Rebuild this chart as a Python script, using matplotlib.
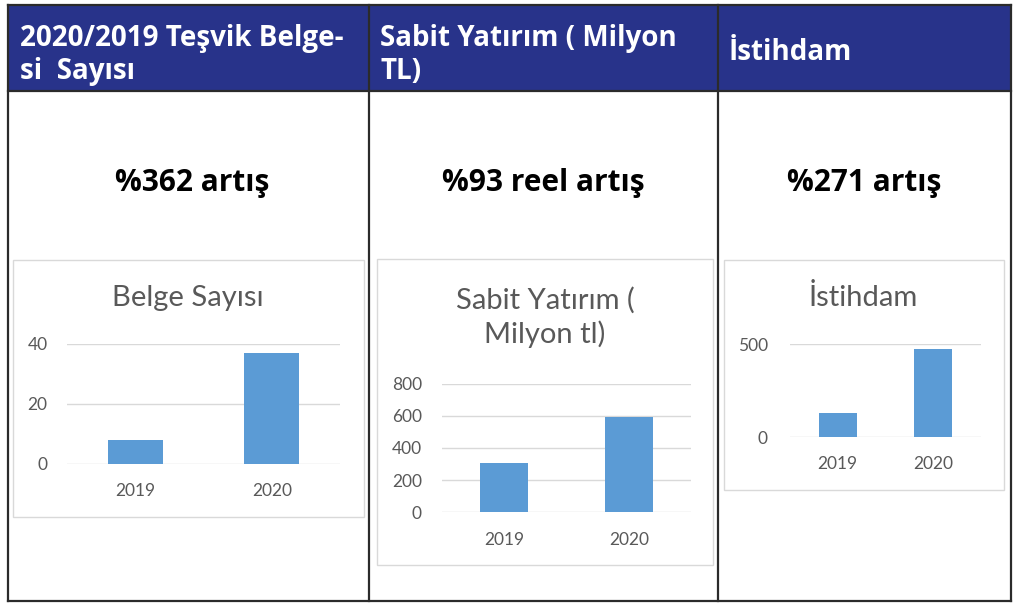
import matplotlib.pyplot as plt
from matplotlib.patches import Rectangle
from matplotlib.lines import Line2D

# veriler
years = ['2019', '2020']
belge = [8, 37]
yatirim = [305, 595]
istihdam = [128, 475]

headers = ['2020/2019 Teşvik Belge-\nsi  Sayısı', 'Sabit Yatırım ( Milyon\nTL)', 'İstihdam']
changes = ['%362 artış', '%93 reel artış', '%271 artış']
chart_titles = ['Belge Sayısı', 'Sabit Yatırım (\nMilyon tl)', 'İstihdam']

W, H = 1013, 603
fig = plt.figure(figsize=(W / 100, H / 100), dpi=100)


def fx(x):
    return x / W


def fy(y):
    return 1 - y / H


BLUE = '#28338a'
LINE = '#2b2b2b'
GREY = '#595959'
BAR = '#5b9bd5'
GRID = '#d9d9d9'

# tablo
fig.patches.append(Rectangle((fx(8), fy(91)), fx(1011) - fx(8), fy(5) - fy(91),
                             transform=fig.transFigure, facecolor=BLUE, edgecolor='none',
                             zorder=-2))
col_x = [8, 369, 718, 1011]
for x in col_x:
    fig.lines.append(Line2D([fx(x), fx(x)], [fy(5), fy(601)], transform=fig.transFigure,
                            color=LINE, lw=1.6))
for y in [5, 91, 601]:
    fig.lines.append(Line2D([fx(8), fx(1011)], [fy(y), fy(y)], transform=fig.transFigure,
                            color=LINE, lw=1.6))

head_x = [20, 380, 729]
head_y = [55, 55, 52]
for i, h in enumerate(headers):
    fig.text(fx(head_x[i]), fy(head_y[i]), h, color='white', fontsize=20, fontweight='bold',
             family='Open Sans', va='center', ha='left', linespacing=1.2)

centers = [192, 543, 864]
for i, c in enumerate(changes):
    fig.text(fx(centers[i]), fy(183), c, color='black', fontsize=21.5, fontweight='bold',
             family='Open Sans', va='center', ha='center')

# grafik çerçeveleri
frames = [(13, 260, 364, 517), (377, 259, 713, 565), (724, 260, 1004, 490)]
for l, t, r, b in frames:
    fig.patches.append(Rectangle((fx(l), fy(b)), fx(r) - fx(l), fy(t) - fy(b),
                                 transform=fig.transFigure, facecolor='none',
                                 edgecolor=GRID, lw=1, zorder=-1))

charts = [
    (belge, (67, 340, 344, 464), 40, [0, 20, 40], 0.4, 14),
    (yatirim, (442, 691, 383.7, 512.3), 800, [0, 200, 400, 600, 800], 0.385, 14.5),
    (istihdam, (790, 981, 344.3, 437), 500, [0, 500], 0.4, 16),
]
title_pos = [(188, 298), (545, 317), (863, 298)]

for i, (vals, (l, r, t, b), ymax, ticks, bw, pad) in enumerate(charts):
    ax = fig.add_axes([fx(l), fy(b), fx(r) - fx(l), fy(t) - fy(b)])
    ax.bar(range(len(years)), vals, width=bw, color=BAR, zorder=3)
    ax.set_xlim(-0.5, len(years) - 0.5)
    ax.set_ylim(0, ymax)
    ax.set_yticks(ticks)
    ax.set_xticks(range(len(years)))
    ax.set_xticklabels(years)
    ax.grid(axis='y', color=GRID, lw=1, zorder=0)
    for s in ax.spines.values():
        s.set_visible(False)
    ax.tick_params(axis='y', length=0, pad=pad, labelsize=12.5, labelcolor=GREY)
    ax.tick_params(axis='x', length=0, pad=14, labelsize=12.5, labelcolor=GREY)
    for lab in ax.get_xticklabels() + ax.get_yticklabels():
        lab.set_family('Lato')
    ax.patch.set_alpha(0)
    tx, ty = title_pos[i]
    fig.text(fx(tx), fy(ty), chart_titles[i], color=GREY, fontsize=21, family='Lato',
             ha='center', va='center', linespacing=1.3)

fig.savefig('out.png', dpi=100)
